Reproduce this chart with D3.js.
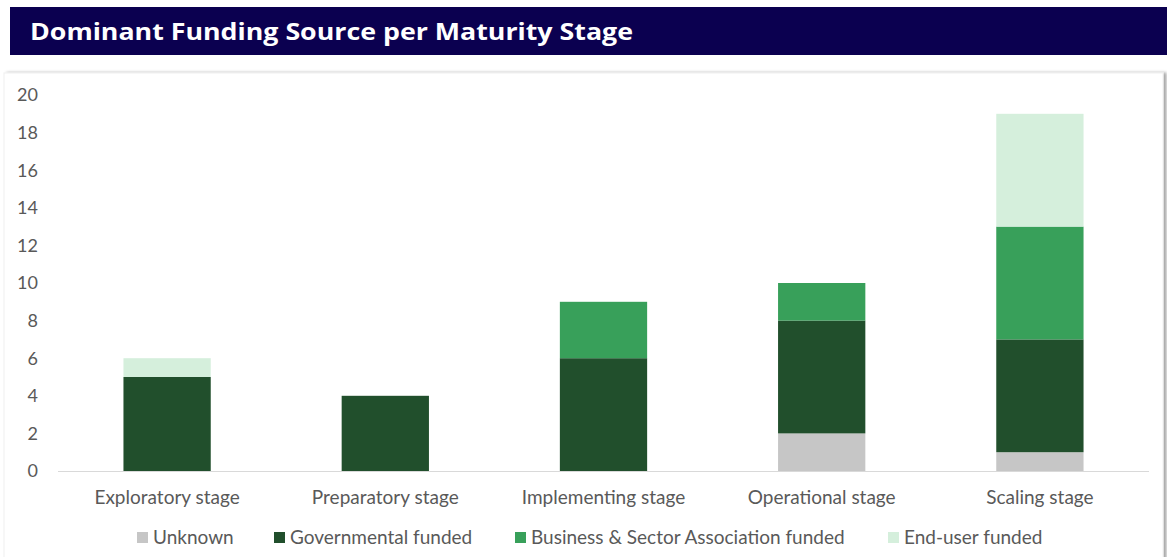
<!DOCTYPE html>
<html>
<head>
<meta charset="utf-8">
<script src="https://cdn.jsdelivr.net/npm/d3@7"></script>
<style>
  body { margin: 0; background: #fff; }
  #chart { width: 1167px; height: 557px; }
</style>
</head>
<body>
<div id="chart"></div>
<script>
// data
const stages = ["Exploratory stage", "Preparatory stage", "Implementing stage", "Operational stage", "Scaling stage"];
const series = ["Unknown", "Governmental funded", "Business & Sector Association funded", "End-user funded"];
const unknown = [0, 0, 0, 2, 1];
const governmental = [5, 4, 6, 6, 6];
const business = [0, 0, 3, 2, 6];
const endUser = [1, 0, 0, 0, 6];
const yTicks = [0, 2, 4, 6, 8, 10, 12, 14, 16, 18, 20];

const colors = ["#c6c6c6", "#214f2c", "#38a05a", "#d5efdc"];

const W = 1167, H = 557;
const svg = d3.select("#chart").append("svg")
    .attr("width", W)
    .attr("height", H);

// drop shadow for the panel
const defs = svg.append("defs");
const f = defs.append("filter").attr("id", "shadow").attr("x", "-5%").attr("y", "-5%").attr("width", "110%").attr("height", "110%");
f.append("feDropShadow").attr("dx", 3).attr("dy", 0).attr("stdDeviation", 1.5).attr("flood-color", "#000").attr("flood-opacity", 0.35);

// panel
svg.append("rect")
    .attr("x", 4).attr("y", 73)
    .attr("width", 1159).attr("height", 500)
    .attr("fill", "#fff")
    .attr("stroke", "#f0f0f0")
    .style("filter", "url(#shadow)");

// title bar
svg.append("rect")
    .attr("x", 10).attr("y", 7)
    .attr("width", W - 10).attr("height", 48)
    .attr("fill", "#0b0050");
svg.append("text")
    .attr("x", 30).attr("y", 40)
    .attr("fill", "#fff")
    .style("font-family", "'Open Sans', Inter, sans-serif")
    .style("font-weight", 700)
    .style("font-size", "24px")
    .attr("textLength", 603)
    .attr("lengthAdjust", "spacingAndGlyphs")
    .text("Dominant Funding Source per Maturity Stage");

const x = d3.scaleBand()
    .domain(stages)
    .range([58, 1149])
    .paddingInner(0.6)
    .paddingOuter(0.3);

const y = d3.scaleLinear()
    .domain([0, 20])
    .range([471, 95]);

const table = stages.map((s, i) => ({
  stage: s,
  [series[0]]: unknown[i],
  [series[1]]: governmental[i],
  [series[2]]: business[i],
  [series[3]]: endUser[i]
}));

const stack = d3.stack().keys(series)(table);
const color = d3.scaleOrdinal().domain(series).range(colors);

const font = "Lato, 'Open Sans', sans-serif";

// y axis labels
svg.append("g")
  .selectAll("text")
  .data(yTicks)
  .join("text")
    .attr("x", 38)
    .attr("y", d => y(d))
    .attr("dy", "0.35em")
    .attr("text-anchor", "end")
    .attr("fill", "#595959")
    .style("font-family", font)
    .style("font-size", "18px")
    .text(d => d);

// bars
svg.append("g")
  .selectAll("g")
  .data(stack)
  .join("g")
    .attr("fill", d => color(d.key))
  .selectAll("rect")
  .data(d => d)
  .join("rect")
    .attr("x", d => x(d.data.stage))
    .attr("width", x.bandwidth())
    .attr("y", d => y(d[1]))
    .attr("height", d => y(d[0]) - y(d[1]));

// baseline
svg.append("line")
    .attr("x1", 58).attr("x2", 1149)
    .attr("y1", y(0) + 0.5).attr("y2", y(0) + 0.5)
    .attr("stroke", "#d9d9d9")
    .attr("stroke-width", 1);

// category labels
svg.append("g")
  .selectAll("text")
  .data(stages)
  .join("text")
    .attr("x", d => x(d) + x.bandwidth() / 2)
    .attr("y", 504)
    .attr("text-anchor", "middle")
    .attr("fill", "#595959")
    .style("font-family", font)
    .style("font-size", "19px")
    .text(d => d);

// legend
const legendX = [137, 274, 515, 888];
const legend = svg.append("g")
  .selectAll("g")
  .data(series)
  .join("g")
    .attr("transform", (d, i) => `translate(${legendX[i]},532)`);
legend.append("rect")
    .attr("width", 11).attr("height", 11)
    .attr("fill", d => color(d));
legend.append("text")
    .attr("x", 16).attr("y", 12)
    .attr("fill", "#595959")
    .style("font-family", font)
    .style("font-size", "19px")
    .text(d => d);
</script>
</body>
</html>
